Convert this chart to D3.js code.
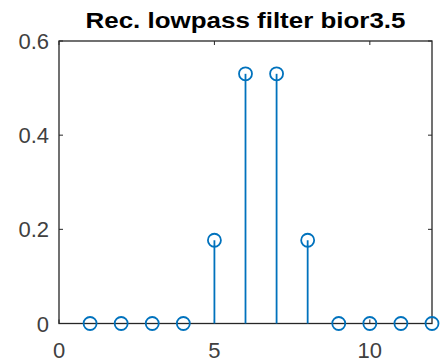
<!DOCTYPE html>
<html>
<head>
<meta charset="utf-8">
<script src="https://cdn.jsdelivr.net/npm/d3@7"></script>
<style>
  body { margin: 0; background: #fff; }
  text { font-family: "Liberation Sans", Arial, sans-serif; }
</style>
</head>
<body>
<div id="graph"></div>
<script>
var xs = [1, 2, 3, 4, 5, 6, 7, 8, 9, 10, 11, 12]
var ys = [0, 0, 0, 0, 0.1768, 0.5303, 0.5303, 0.1768, 0, 0, 0, 0]
var xTicks = [0, 5, 10]
var yTicks = [0, 0.2, 0.4, 0.6]
var title = 'Rec. lowpass filter bior3.5'

var width = 440, height = 363
var margin = {left: 59, right: 8, top: 41, bottom: 39.5}
var blue = '#0072BD', axisColor = '#262626'

var svg = d3.select('#graph').append('svg')
    .attr('width', width)
    .attr('height', height)

var x = d3.scaleLinear().domain([0, 12]).range([margin.left, width - margin.right])
var y = d3.scaleLinear().domain([0, 0.6]).range([height - margin.bottom, margin.top])

// box
svg.append('rect')
    .attr('x', x(0)).attr('y', y(0.6))
    .attr('width', x(12) - x(0)).attr('height', y(0) - y(0.6))
    .attr('fill', 'none').attr('stroke', axisColor).attr('stroke-width', 1.3)

// ticks (inside, all four sides)
var tl = 4
var g = svg.append('g').attr('stroke', axisColor).attr('stroke-width', 1)
xTicks.forEach(function(t){
  g.append('line').attr('x1', x(t)).attr('x2', x(t)).attr('y1', y(0)).attr('y2', y(0) - tl)
  g.append('line').attr('x1', x(t)).attr('x2', x(t)).attr('y1', y(0.6)).attr('y2', y(0.6) + tl)
})
yTicks.forEach(function(t){
  g.append('line').attr('x1', x(0)).attr('x2', x(0) + tl).attr('y1', y(t)).attr('y2', y(t))
  g.append('line').attr('x1', x(12)).attr('x2', x(12) - tl).attr('y1', y(t)).attr('y2', y(t))
})

// tick labels
svg.selectAll('.xl').data(xTicks).enter().append('text')
    .attr('x', function(d){ return x(d) })
    .attr('y', y(0) + 34)
    .attr('text-anchor', 'middle')
    .attr('font-size', 22)
    .attr('fill', '#404040')
    .text(function(d){ return d })

svg.selectAll('.yl').data(yTicks).enter().append('text')
    .attr('x', x(0) - 10)
    .attr('y', function(d){ return y(d) + 8 })
    .attr('text-anchor', 'end')
    .attr('font-size', 22)
    .attr('fill', '#404040')
    .text(function(d){ return d })

// stems
svg.selectAll('.stem').data(xs).enter().append('line')
    .attr('x1', function(d){ return x(d) })
    .attr('x2', function(d){ return x(d) })
    .attr('y1', y(0))
    .attr('y2', function(d, i){ return y(ys[i]) })
    .attr('stroke', blue).attr('stroke-width', 1.8)

svg.selectAll('.mk').data(xs).enter().append('circle')
    .attr('cx', function(d){ return x(d) })
    .attr('cy', function(d, i){ return y(ys[i]) })
    .attr('r', 6.5)
    .attr('fill', 'none')
    .attr('stroke', blue).attr('stroke-width', 1.8)

// title
svg.append('text')
    .attr('x', (x(0) + x(12)) / 2)
    .attr('y', 28)
    .attr('text-anchor', 'middle')
    .attr('font-size', 22)
    .attr('font-weight', 'bold')
    .attr('textLength', 320)
    .attr('lengthAdjust', 'spacingAndGlyphs')
    .attr('fill', '#000')
    .text(title)
</script>
</body>
</html>
